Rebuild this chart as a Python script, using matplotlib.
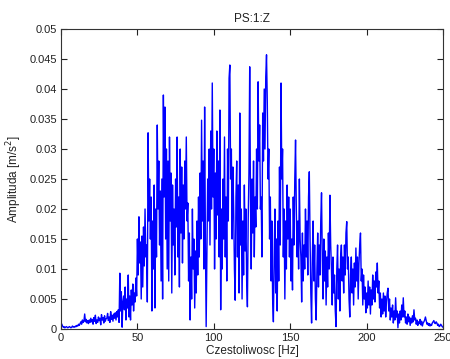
import matplotlib
matplotlib.use("Agg")
import matplotlib.pyplot as plt
import numpy as np
from matplotlib.ticker import FuncFormatter

plt.rcParams['font.family'] = ['Liberation Sans', 'DejaVu Sans']

# Frequency axis: 0 .. 250 Hz, 0.5 Hz step (501 samples)
freq_start = 0.0
freq_step = 0.5

# Amplitude in units of 1e-3 m/s^2, in 10 Hz blocks
amp_0_10 = [1.0,0.8,0.5,0.3,0.4,0.2,0.3,0.4,0.3,0.2,0.3,0.4,0.3,0.2,0.3,0.5,0.3,0.4,0.3,0.5]
amp_10_20 = [0.4,0.6,0.5,0.8,0.6,0.9,1.2,0.8,1.5,1.1,1.3,2.5,1.2,1.6,1.0,1.4,0.9,1.5,1.1,1.8]
amp_20_30 = [1.2,1.6,0.8,1.9,1.3,2.3,0.9,1.5,1.1,2.0,1.4,1.8,0.7,2.4,1.5,1.9,1.0,2.2,1.3,1.7]
amp_30_40 = [1.8,2.6,1.4,2.0,1.1,2.9,1.6,2.3,1.3,2.5,1.8,2.7,1.5,2.9,2.0,3.2,1.1,9.3,3.0,6.2]
amp_40_50 = [0.3,4.5,5.5,3.2,7.0,1.5,5.0,3.5,9.0,2.0,5.5,1.5,6.5,4.0,7.5,3.0,6.0,4.5,8.5,5.5]
amp_50_60 = [15.0,9.0,18.7,11.0,14.5,5.0,15.5,7.0,17.0,10.5,20.0,12.0,14.0,4.5,32.7,18.0,25.0,15.0,22.0,3.0]
amp_60_70 = [18.0,10.0,24.0,3.5,20.0,12.0,34.0,20.0,28.0,14.0,23.0,8.0,25.0,5.0,39.0,22.0,37.0,15.0,30.0,10.0]
amp_70_80 = [28.0,8.0,32.0,18.0,26.0,6.0,24.0,14.0,20.0,9.0,25.0,17.0,32.0,12.0,22.0,7.0,30.0,16.0,27.0,11.0]
amp_80_90 = [24.0,15.0,28.0,20.0,32.0,18.0,21.0,8.0,16.0,1.5,12.0,5.0,20.0,10.0,15.0,3.5,13.0,6.0,18.0,9.0]
amp_90_100 = [22.0,12.0,26.0,15.0,34.8,18.0,28.0,10.0,37.0,15.0,0.4,12.0,25.0,18.0,30.0,14.0,33.0,20.0,41.0,22.0]
amp_100_110 = [30.0,10.0,26.0,15.0,33.0,19.0,28.0,12.0,36.5,3.2,20.0,10.0,25.0,15.0,32.0,12.0,22.0,8.0,30.0,18.0]
amp_110_120 = [41.8,44.0,25.0,30.0,15.0,27.0,20.0,10.0,4.8,22.0,28.0,12.0,24.0,6.0,36.0,14.0,20.0,5.0,18.0,9.0]
amp_120_130 = [24.0,13.0,20.0,8.0,3.7,18.0,26.0,43.7,22.0,10.0,25.0,16.0,28.0,12.0,22.0,17.0,30.0,20.0,41.2,28.0]
amp_130_140 = [34.0,20.0,22.0,12.0,36.0,28.0,40.0,30.0,42.0,45.7,38.0,25.0,30.0,15.0,22.0,8.0,18.0,5.0,1.2,12.0]
amp_140_150 = [20.0,6.0,15.0,3.0,18.0,8.0,27.0,14.0,41.0,25.0,30.0,12.0,20.0,5.0,18.0,10.0,24.0,15.0,22.0,12.0]
amp_150_160 = [20.0,8.0,15.0,6.5,22.0,14.0,25.0,31.5,20.0,12.0,18.0,10.0,25.0,15.0,12.0,4.5,16.0,8.0,14.0,10.0]
amp_160_170 = [20.0,12.0,18.0,9.0,22.0,26.2,15.0,6.0,1.0,12.0,18.0,8.0,14.0,5.0,1.5,10.0,16.0,7.0,14.0,9.0]
amp_170_180 = [18.0,22.7,12.0,5.0,15.0,8.0,13.0,4.0,12.0,7.0,16.0,10.0,22.3,14.0,10.0,4.0,12.0,6.0,9.0,3.0]
amp_180_190 = [0.4,10.0,14.0,5.0,10.0,3.0,12.0,14.0,8.0,12.0,6.0,14.0,9.0,16.0,17.9,10.0,12.0,5.0,2.0,9.0]
amp_190_200 = [12.0,6.0,10.0,4.0,11.0,7.0,13.5,8.0,12.0,5.0,11.0,14.0,16.0,8.0,10.0,4.0,9.0,5.0,7.0,2.7]
amp_200_210 = [6.0,3.5,8.0,4.0,7.0,2.5,6.5,4.0,9.0,5.0,8.0,4.5,9.5,7.0,11.0,6.0,8.0,3.5,6.0,2.0]
amp_210_220 = [5.0,2.5,6.0,3.0,5.5,2.0,4.5,6.0,6.8,3.0,5.0,1.5,3.5,2.0,4.0,1.0,3.0,1.5,5.2,2.0]
amp_220_230 = [3.0,0.2,2.5,1.0,3.0,1.5,4.0,2.0,5.2,2.0,3.0,1.0,2.0,0.8,2.5,1.2,2.0,0.6,1.8,1.0]
amp_230_240 = [2.2,1.2,3.2,1.5,1.8,0.8,1.5,0.6,1.2,0.9,1.6,0.7,1.3,0.5,1.0,1.2,1.5,2.0,1.4,0.8]
amp_240_250 = [1.0,0.6,0.9,0.5,0.8,0.6,1.0,1.2,1.4,1.0,0.9,1.2,1.0,0.6,0.8,0.4,0.5,0.8,0.6,0.4,0.3]

blocks = [amp_0_10, amp_10_20, amp_20_30, amp_30_40, amp_40_50, amp_50_60,
          amp_60_70, amp_70_80, amp_80_90, amp_90_100, amp_100_110, amp_110_120,
          amp_120_130, amp_130_140, amp_140_150, amp_150_160, amp_160_170,
          amp_170_180, amp_180_190, amp_190_200, amp_200_210, amp_210_220,
          amp_220_230, amp_230_240, amp_240_250]
amp = np.concatenate([np.array(b) for b in blocks]) * 1e-3
freq = freq_start + freq_step * np.arange(len(amp))

title = "PS:1:Z"
xlabel = "Czestoliwosc [Hz]"
ylabel = "Amplituda [m/s$^2$]"
xticks = [0, 50, 100, 150, 200, 250]
yticks = [0, 0.005, 0.01, 0.015, 0.02, 0.025, 0.03, 0.035, 0.04, 0.045, 0.05]

fig = plt.figure(figsize=(4.5, 3.59), dpi=100)
fig.patch.set_facecolor('white')
ax = fig.add_axes([61/450, 1-329/359, 382/450, 300/359])
ax.plot(freq, amp, color='#0000ff', lw=1.0)
ax.set_xlim(0, 250)
ax.set_ylim(0, 0.05)
ax.set_xticks(xticks)
ax.set_yticks(yticks)
ax.yaxis.set_major_formatter(FuncFormatter(lambda v, p: ('%g' % round(v, 4))))
ax.tick_params(direction='in', top=True, right=True, length=4, width=0.8,
               labelsize=8, colors='#222222', pad=3)
for s in ax.spines.values():
    s.set_color('#333333')
    s.set_linewidth(0.8)
ax.set_title(title, fontsize=8.5, pad=5, color='#222222')
ax.set_xlabel(xlabel, fontsize=8.5, labelpad=1, color='#222222')
ax.set_ylabel(ylabel, fontsize=8.5, labelpad=4, color='#222222')
fig.savefig("out.png", dpi=100)
